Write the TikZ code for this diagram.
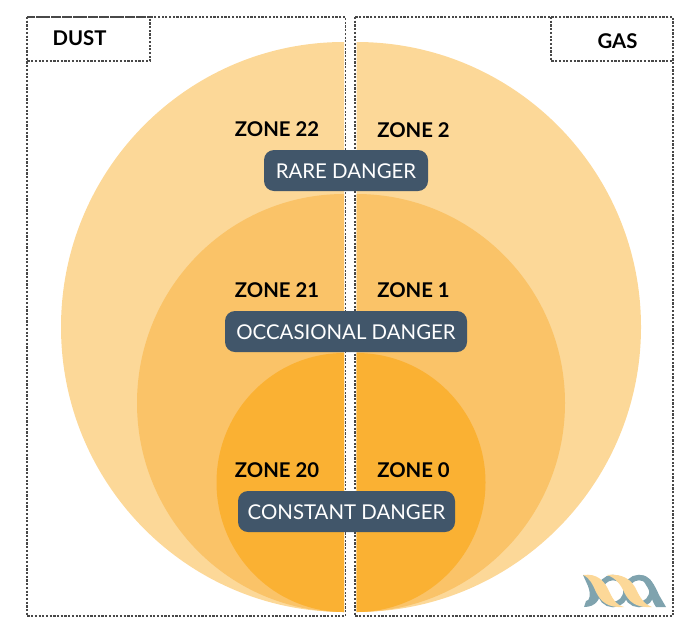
\documentclass[tikz,border=0pt]{standalone}
\usepackage{fontspec}
\setmainfont{Lato}
\usepackage{xcolor}
\definecolor{bigzone}{HTML}{FCD898}
\definecolor{midzone}{HTML}{FAC368}
\definecolor{smallzone}{HTML}{FAB133}
\definecolor{pillblue}{HTML}{41566A}
\definecolor{logoteal}{HTML}{7FA3AE}
\definecolor{dashgray}{HTML}{484848}
\tikzset{
  panel/.style={draw=dashgray,line width=1.8pt,dash pattern=on 2.2pt off 1.5pt},
  zonelabel/.style={font=\fontsize{20.3}{22}\selectfont\bfseries,text=black,inner sep=0pt},
  pill/.style={fill=pillblue,rounded corners=10pt,text=white,inner sep=0pt,
    text height=16.7pt,text depth=0pt,minimum height=41pt,
    font=\fontsize{20.4}{23}\selectfont},
}
\begin{document}
\begin{tikzpicture}[x=1pt,y=-1pt]
        \useasboundingbox (0,0) rectangle (700,635);

        % draw half circles
        \foreach \cy/\r/\col in {327/285/bigzone,403/209/midzone,482.5/129.5/smallzone}{
          \fill[\col] (344,\cy-\r) arc[start angle=90,end angle=270,x radius=\r-2,y radius=-\r] -- cycle;
          \fill[\col] (356.5,\cy-\r) arc[start angle=90,end angle=-90,x radius=\r-0.5,y radius=-\r] -- cycle;
        }

        % draw panels
        \draw[panel] (27,17) rectangle (345.5,616);
        \draw[panel] (355,17) rectangle (673,616);
        \draw[panel] (27,17) rectangle (150,61);
        \draw[panel] (551,17) rectangle (673,61);

        % draw panel titles
        \node[zonelabel] (dust) at (79.5,38.5) {DUST};
        \node[zonelabel] (gas) at (617.5,41.5) {GAS};

        % draw zone labels
        \foreach \name/\x/\y/\txt in {zoneb/277/129.5/ZONE 22,zonec/413.5/130.5/ZONE 2,
            zoned/277/290.5/ZONE 21,zonee/413.5/290.5/ZONE 1,
            zonef/277/470.5/ZONE 20,zoneg/413.5/470.5/ZONE 0}
          \node[zonelabel] (\name) at (\x,\y) {\txt};

        % draw danger pills
        \node[pill,minimum width=164pt] (rare) at (346,170.5) {RARE DANGER};
        \node[pill,minimum width=242pt] (occasional) at (346,331.5) {OCCASIONAL DANGER};
        \node[pill,minimum width=217pt] (constant) at (346.5,511.5) {CONSTANT DANGER};

        % draw logo
        \fill[logoteal] (583,575) .. controls (592,574) and (599,581) .. (600,590)
          .. controls (601,600) and (595,607) .. (584,607) -- (586,601)
          .. controls (590,601) and (591,594) .. (588,586) -- cycle;
        \draw[logoteal,line width=5.5pt] (613,591) ellipse[x radius=13,y radius=13.5];
        \draw[logoteal,line width=5.5pt] (639,591) ellipse[x radius=13,y radius=13.5];
        \fill[logoteal] (640,575) .. controls (650,575) and (655,586) .. (659,595)
          -- (666,607) -- (656,607) .. controls (651,600) and (650,590) .. (646,585) -- cycle;
        \fill[bigzone] (583,575) .. controls (597,573) and (604,581) .. (608,589)
          .. controls (612,598) and (616,605) .. (624,607) .. controls (608,608) and (601,602) .. (596,592)
          .. controls (593,585) and (590,578) .. (583,575) -- cycle;
        \fill[bigzone] (607,575) .. controls (624,573) and (632,581) .. (636,589)
          .. controls (640,598) and (645,605) .. (652,607) .. controls (636,608) and (629,602) .. (624,592)
          .. controls (621,585) and (616,578) .. (607,575) -- cycle;
\end{tikzpicture}
\end{document}
